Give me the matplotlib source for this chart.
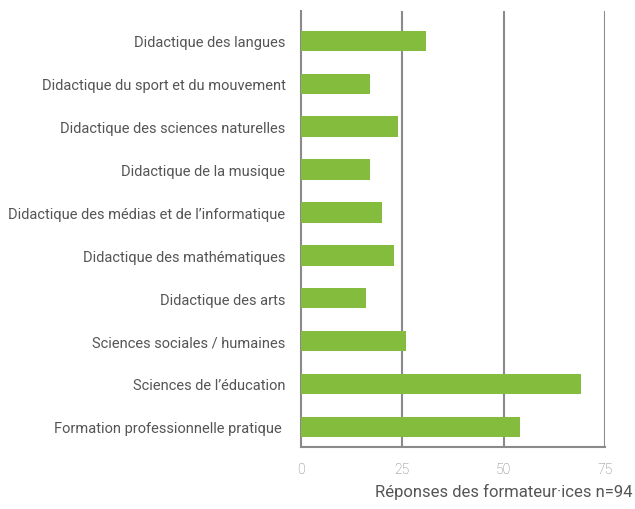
import numpy as np
import matplotlib.pyplot as plt

categories = [
    'Didactique des langues',
    'Didactique du sport et du mouvement',
    'Didactique des sciences naturelles',
    'Didactique de la musique',
    'Didactique des médias et de l\u2019informatique',
    'Didactique des mathématiques',
    'Didactique des arts',
    'Sciences sociales / humaines',
    'Sciences de l\u2019éducation',
    'Formation professionnelle pratique ',
]
values = [31, 17, 24, 17, 20, 23, 16, 26, 69, 54]
xticks = [0, 25, 50, 75]

plt.rcParams['font.family'] = ['Roboto', 'DejaVu Sans']

fig = plt.figure(figsize=(6.35, 5.1), dpi=100)
ax = fig.add_axes([0.4735, 0.1216, 0.4793, 0.855])

y = np.arange(len(categories))[::-1]
ax.barh(y, values, height=0.48, color='#84bc3e', zorder=3)

ax.set_xlim(0, 75)
ax.set_ylim(-0.47, 9.7)
ax.set_yticks(y)
ax.set_yticklabels(categories, fontsize=10.5, color='#555555')
ax.set_xticks(xticks)
ax.set_xticklabels([str(t) for t in xticks], fontsize=10, color='#777777', fontweight='light')
ax.tick_params(axis='both', length=0)
ax.tick_params(axis='y', pad=11)
ax.tick_params(axis='x', pad=11)

for t in xticks[1:]:
    ax.axvline(t, color='#8a8a8a', lw=1.5, zorder=1)

for s in ['top', 'right']:
    ax.spines[s].set_visible(False)
for s in ['left', 'bottom']:
    ax.spines[s].set_color('#8a8a8a')
    ax.spines[s].set_linewidth(1.5)

fig.text(0.996, 0.025, 'Réponses des formateur\u00b7ices n=94', fontsize=12,
         color='#555555', ha='right', va='baseline')

fig.savefig('out.png', dpi=100)
